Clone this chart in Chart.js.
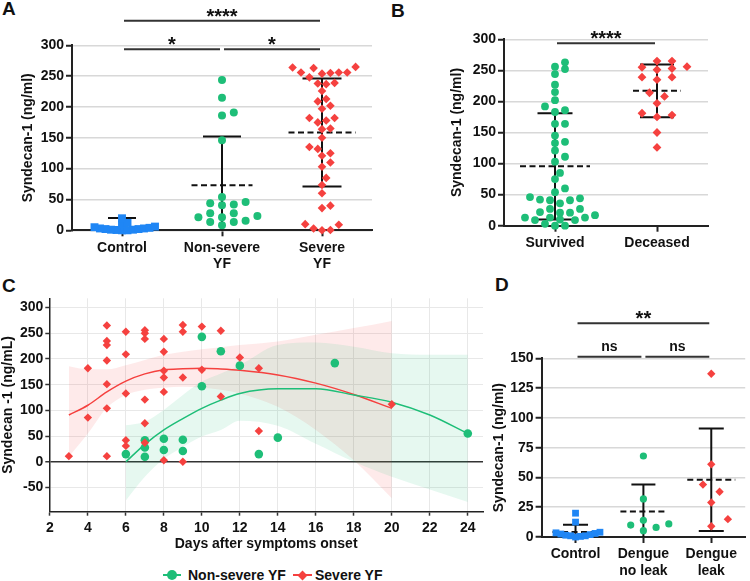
<!DOCTYPE html>
<html>
<head>
<meta charset="utf-8">
<script src="https://cdn.jsdelivr.net/npm/chart.js@4.4.1/dist/chart.umd.min.js"></script>
<style>
  html, body { margin: 0; padding: 0; background: #fff; width: 750px; height: 581px; overflow: hidden; }
  body { position: relative; font-family: "Liberation Sans", Arial, sans-serif; color: #111; }
  canvas { position: absolute; }
  .lbl { position: absolute; font-weight: bold; font-size: 19px; line-height: 19px; }
  .leg { position: absolute; font-weight: bold; font-size: 14px; line-height: 16px; white-space: nowrap; }
  .ln { position: absolute; height: 2px; }
  .mk { position: absolute; }
</style>
</head>
<body>
<div class="lbl" style="left:2px;top:-1px">A</div>
<div class="lbl" style="left:391px;top:1px">B</div>
<div class="lbl" style="left:2px;top:276px">C</div>
<div class="lbl" style="left:495px;top:275px">D</div>

<canvas id="cC" width="490" height="293" style="left:0;top:260px"></canvas>
<canvas id="cA" width="380" height="275" style="left:0;top:0"></canvas>
<canvas id="cB" width="370" height="260" style="left:380px;top:0"></canvas>
<canvas id="cD" width="260" height="321" style="left:490px;top:260px"></canvas>

<!-- legend of panel C -->
<div class="ln" style="left:163px;top:574px;width:18px;background:#1ebe78"></div>
<div class="mk" style="left:167px;top:570px;width:10px;height:10px;border-radius:5px;background:#1ebe78"></div>
<div class="leg" style="left:188px;top:567px">Non-severe YF</div>
<div class="ln" style="left:293px;top:574px;width:19px;background:#f5413f"></div>
<div class="mk" style="left:298.5px;top:571.5px;width:7px;height:7px;transform:rotate(45deg);background:#f5413f"></div>
<div class="leg" style="left:315px;top:567px">Severe YF</div>

<script>
// colours
const GREEN = '#1ebe78', RED = '#f5413f', BLUE = '#1f86f5';

// --- panel A
const catsA = ['Control', ['Non-severe', 'YF'], ['Severe', 'YF']];
const controlA = [19.5, 12, 9, 6, 5, 4, 3, 3, 2, 2, 1, 1, 0.5, 0, 0];
const nonSevereA = [243.6, 215, 191, 186, 146, 54, 46, 44, 42, 40.5, 27.5, 27.5, 23, 21, 21, 15.5, 13.5, 13.5, 8];
const severeA = [265, 264, 263, 256, 256, 255, 254, 248, 256, 239, 238, 237, 226, 213, 209, 202, 197, 182, 182,
  178, 175, 165, 164, 150, 135, 132, 125, 121, 110, 103, 85, 73.5, 60, 40, 36, 10, 9, 3, 0.5, 0];
const meanA = [4.5, 73, 158.5];
const sdA = [15.5, 79, 87.5];

// --- panel B
const catsB = ['Survived', 'Deceased'];
const survivedB = [263, 256, 252, 244, 227, 215, 202, 192, 186, 183, 164, 164, 145, 135, 133, 121, 111, 103, 85, 75,
  60, 54, 46, 44, 42, 41, 41, 36, 27, 27, 22, 21, 21, 17, 13, 13, 13, 10, 9, 9, 3, 0, 0];
const deceasedB = [265, 265, 256, 255, 253, 251, 239, 239, 235, 214, 208, 197, 181, 178, 175, 150, 126];
const meanB = [95.5, 217];
const sdB = [85.5, 42.5];

// --- panel C
const nsDays = [6, 7, 7, 7, 8, 8, 9, 9, 10, 10, 11, 12, 13, 14, 17, 24];
const nsVals = [15, 42, 28, 10, 45, 23, 43, 21, 243, 147, 215, 187, 15, 47, 192, 55];
const sDays = [3, 4, 4, 5, 5, 5, 5, 5, 5, 5, 6, 6, 6, 6, 6, 7, 7, 7, 7, 7, 7, 8, 8, 8, 8, 8, 8, 9, 9, 9, 9,
  10, 10, 11, 11, 12, 13, 13, 20];
const sVals = [11, 182, 86, 265, 235, 227, 197, 151, 104, 11, 253, 209, 133, 42, 31, 256, 250, 239, 121, 75, 37,
  239, 214, 177, 164, 136, 3, 266, 253, 164, 0, 263, 179, 255, 127, 203, 182, 60, 112];
const fitDaysG = [6, 7, 8, 9, 10, 11, 12, 14, 16, 18, 20, 22, 24];
const fitG = [0, 34, 62, 84, 104, 120, 133, 142, 142, 130, 116, 91, 55];
const hiG = [71, 78, 101, 130, 156, 172, 188, 227, 232, 224, 211, 208, 208];
const loG = [-75, -29, 6, 29, 49, 62, 80, 70, 35, 0, -29, -54, -78];
const fitDaysR = [3, 4, 5, 6, 7, 8, 9, 10, 11, 12, 14, 16, 18, 20];
const fitR = [91, 110, 136, 157, 171, 179, 181, 182, 180.5, 178, 169, 153, 131, 104];
const hiR = [186, 180, 180, 188, 198, 208, 214, 219, 223, 227, 234, 247, 260, 274];
const loR = [10, 55, 105, 130, 140, 144, 146, 144, 140, 133, 107, 62, 3, -71];

// --- panel D
const catsD = ['Control', ['Dengue', 'no leak'], ['Dengue', 'leak']];
const controlD = [20, 12.5, 4, 3.5, 3, 2.5, 2, 1.5, 1, 1, 0.5, 0];
const noLeakD = [68, 32, 14, 11, 10, 8, 5.3];
const leakD = [137, 61, 44, 38, 29, 15, 9];
const meanD = [4.2, 21.5, 48];
const sdD = [6, 22.5, 43];

Chart.defaults.font.family = '"Liberation Sans", Arial, sans-serif';
Chart.defaults.font.weight = 'bold';
Chart.defaults.font.size = 14;
Chart.defaults.color = '#111';
Chart.defaults.animation = false;
Chart.defaults.plugins.legend.display = false;
Chart.defaults.plugins.tooltip.enabled = false;

// beeswarm in pixel space: each point goes to the nearest free slot beside its column
// (dx, dy = horizontal / vertical clearance between two markers)
function swarm(vals, center, dx, dy, pxX, pxY) {
  const v = vals.slice().sort((a, b) => a - b);
  const placed = [];
  v.forEach(val => {
    const py = val * pxY;
    for (let k = 0; ; k++) {
      const off = (k % 2 ? 1 : -1) * Math.ceil(k / 2) * dx / 2;
      const ok = placed.every(p => ((p.px - off) / dx) ** 2 + ((p.py - py) / dy) ** 2 >= 0.999);
      if (ok) { placed.push({ px: off, py, val }); break; }
    }
  });
  return placed.map(p => ({ x: center + p.px / pxX, y: p.val }));
}

// mean (dashed) + SD whiskers, and significance brackets
const gpBars = {
  id: 'gpBars',
  beforeDatasetsDraw(chart, args, o) {
    const { ctx, chartArea: a, scales: { x, y } } = chart;
    ctx.save();
    ctx.beginPath();
    ctx.rect(a.left, a.top - 3, a.right - a.left, a.bottom - a.top + 3);
    ctx.clip();
    ctx.strokeStyle = '#111';
    ctx.lineWidth = 2;
    o.mean.forEach((m, i) => {
      const cx = x.getPixelForValue(i);
      const hi = y.getPixelForValue(m + o.sd[i]);
      const lo = y.getPixelForValue(m - o.sd[i]);
      ctx.setLineDash([]);
      ctx.beginPath();
      ctx.moveTo(cx, hi); ctx.lineTo(cx, lo);
      ctx.moveTo(cx - o.cap[i], hi); ctx.lineTo(cx + o.cap[i], hi);
      ctx.moveTo(cx - o.cap[i], lo); ctx.lineTo(cx + o.cap[i], lo);
      ctx.stroke();
      const my = y.getPixelForValue(m);
      ctx.setLineDash([6, 3.5]);
      ctx.beginPath();
      ctx.moveTo(cx - o.half[i], my); ctx.lineTo(cx + o.half[i], my);
      ctx.stroke();
    });
    ctx.restore();
  },
  afterDraw(chart, args, o) {
    const { ctx, scales: { x, y } } = chart;
    ctx.save();
    ctx.strokeStyle = '#333';
    ctx.lineWidth = 2;
    ctx.fillStyle = '#111';
    ctx.textAlign = 'center';
    ctx.textBaseline = 'alphabetic';
    o.brackets.forEach(([a, b, lvl, txt]) => {
      const x0 = x.getPixelForValue(a) + 2, x1 = x.getPixelForValue(b) - 2;
      const yy = y.getPixelForValue(lvl);
      ctx.beginPath(); ctx.moveTo(x0, yy); ctx.lineTo(x1, yy); ctx.stroke();
      const stars = txt.indexOf('*') >= 0;
      ctx.font = stars ? 'bold 20px "Liberation Sans", Arial' : 'bold 14px "Liberation Sans", Arial';
      ctx.fillText(txt, (x0 + x1) / 2, stars ? yy + 2 : yy - 6);
    });
    ctx.restore();
  }
};

function dotChart(id, cats, groups, cfg) {
  const chart = new Chart(document.getElementById(id), {
    type: 'scatter',
    data: {
      datasets: groups.map(g => ({
        data: [], pointStyle: g.style, pointRadius: g.r, backgroundColor: g.color, borderWidth: 0, clip: false
      }))
    },
    options: {
      responsive: false,
      layout: { padding: cfg.pad },
      scales: {
        x: {
          type: 'linear', min: -0.5, max: cats.length - 0.5,
          afterFit: s => { s.height = cfg.xh; },
          afterBuildTicks: s => { s.ticks = cats.map((c, i) => ({ value: i })); },
          ticks: { callback: v => cats[v], autoSkip: false, maxRotation: 0, padding: 3 },
          grid: { drawOnChartArea: false, tickLength: 6, tickColor: '#222', tickWidth: 2 },
          border: { color: '#222', width: 2 }
        },
        y: {
          min: 0, max: cfg.ymax,
          afterFit: s => { s.width = cfg.yw; },
          ticks: { stepSize: cfg.ystep, padding: 2 },
          grid: { color: '#d8d8d8', lineWidth: 1.5, tickLength: 6, tickColor: '#222', tickWidth: 2 },
          border: { color: '#222', width: 2 },
          title: { display: true, text: 'Syndecan-1 (ng/ml)', padding: 0, font: { size: 14, weight: 'bold' } }
        }
      },
      plugins: { gpBars: cfg.bars }
    },
    plugins: [gpBars]
  });
  // spread the points now that the scales know their pixel size
  const sx = chart.scales.x, sy = chart.scales.y;
  const pxX = sx.getPixelForValue(1) - sx.getPixelForValue(0);
  const pxY = sy.getPixelForValue(0) - sy.getPixelForValue(1);
  groups.forEach((g, i) => { chart.data.datasets[i].data = swarm(g.vals, i, g.dx, g.dy, pxX, pxY); });
  chart.update('none');
  return chart;
}

dotChart('cA', catsA, [
  { vals: controlA, color: BLUE, style: 'rect', r: 5.6, dx: 5.5, dy: 5 },
  { vals: nonSevereA, color: GREEN, style: 'circle', r: 4, dx: 11.8, dy: 8 },
  { vals: severeA, color: RED, style: 'rectRot', r: 4.3, dx: 8.4, dy: 7.5 }
], {
  pad: { left: 20, top: 45.3, right: 8, bottom: 0 }, yw: 52, xh: 44.7, ymax: 300, ystep: 50,
  bars: { mean: meanA, sd: sdA, cap: [14, 19, 19.5], half: [28, 30.5, 33.5],
    brackets: [[0, 1, 293.5, '*'], [1, 2, 293.5, '*'], [0, 2, 340, '****']] }
});

dotChart('cB', catsB, [
  { vals: survivedB, color: GREEN, style: 'circle', r: 3.9, dx: 10, dy: 6.5 },
  { vals: deceasedB, color: RED, style: 'rectRot', r: 4.4, dx: 15, dy: 7 }
], {
  pad: { left: 69, top: 39.3, right: 42, bottom: 0 }, yw: 55, xh: 34.3, ymax: 300, ystep: 50,
  bars: { mean: meanB, sd: sdB, cap: [17.5, 17], half: [35, 24],
    brackets: [[0, 1, 293.5, '****']] }
});

dotChart('cD', catsD, [
  { vals: controlD, color: BLUE, style: 'rect', r: 4.8, dx: 5, dy: 5 },
  { vals: noLeakD, color: GREEN, style: 'circle', r: 3.6, dx: 13, dy: 10 },
  { vals: leakD, color: RED, style: 'rectRot', r: 4.2, dx: 17, dy: 12 }
], {
  pad: { left: 0.6, top: 98.3, right: 0, bottom: 0 }, yw: 51, xh: 44, ymax: 150, ystep: 25,
  bars: { mean: meanD, sd: sdD, cap: [12.5, 12, 12.5], half: [23, 23, 24],
    brackets: [[0, 1, 151.4, 'ns'], [1, 2, 151.4, 'ns'], [0, 2, 179.4, '**']] }
});

// --- panel C: loess-style fits with confidence bands
const pairs = (xs, ys) => xs.map((d, i) => ({ x: d, y: ys[i] }));
const band = { pointRadius: 0, borderWidth: 0, cubicInterpolationMode: 'monotone', order: 3 };
new Chart(document.getElementById('cC'), {
  type: 'line',
  data: {
    datasets: [
      { type: 'scatter', data: pairs(nsDays, nsVals), pointStyle: 'circle', pointRadius: 4.3,
        backgroundColor: GREEN, borderWidth: 0, order: 1, clip: false },
      { type: 'scatter', data: pairs(sDays, sVals), pointStyle: 'rectRot', pointRadius: 4.2,
        backgroundColor: RED, borderWidth: 0, order: 0, clip: false },
      { data: pairs(fitDaysG, fitG), borderColor: GREEN, borderWidth: 1.5, pointRadius: 0,
        cubicInterpolationMode: 'monotone', fill: false, order: 2 },
      { data: pairs(fitDaysR, fitR), borderColor: RED, borderWidth: 1.5, pointRadius: 0,
        cubicInterpolationMode: 'monotone', fill: false, order: 2 },
      { ...band, data: pairs(fitDaysG, hiG), fill: '+1', backgroundColor: 'rgba(30,190,120,0.11)' },
      { ...band, data: pairs(fitDaysG, loG), fill: false },
      { ...band, data: pairs(fitDaysR, hiR), fill: '+1', backgroundColor: 'rgba(245,65,63,0.11)' },
      { ...band, data: pairs(fitDaysR, loR), fill: false }
    ]
  },
  options: {
    responsive: false,
    layout: { padding: { left: 0, top: 38.3, right: 7, bottom: 0 } },
    scales: {
      x: {
        type: 'linear', min: 1.97, max: 24.8,
        afterFit: s => { s.height = 41.3; },
        ticks: { stepSize: 2, includeBounds: false, padding: 4, maxRotation: 0 },
        grid: { color: '#e8e8e8', lineWidth: 1, tickLength: 4, tickColor: '#333', tickWidth: 1.5 },
        border: { color: '#222', width: 1.5 },
        title: { display: true, text: 'Days after symptoms onset', padding: 0, font: { size: 14, weight: 'bold' } }
      },
      y: {
        min: -97, max: 318,
        afterFit: s => { s.width = 49.3; },
        ticks: { stepSize: 50, includeBounds: false, padding: 2 },
        grid: {
          color: c => c.tick && c.tick.value === 0 ? '#333' : '#e8e8e8',
          lineWidth: c => c.tick && c.tick.value === 0 ? 1.5 : 1,
          tickLength: 4, tickColor: '#333', tickWidth: 1.5
        },
        border: { color: '#222', width: 1.5 },
        title: { display: true, text: 'Syndecan -1 (ng/mL)', padding: 0, font: { size: 14, weight: 'bold' } }
      }
    }
  }
});
</script>
</body>
</html>
